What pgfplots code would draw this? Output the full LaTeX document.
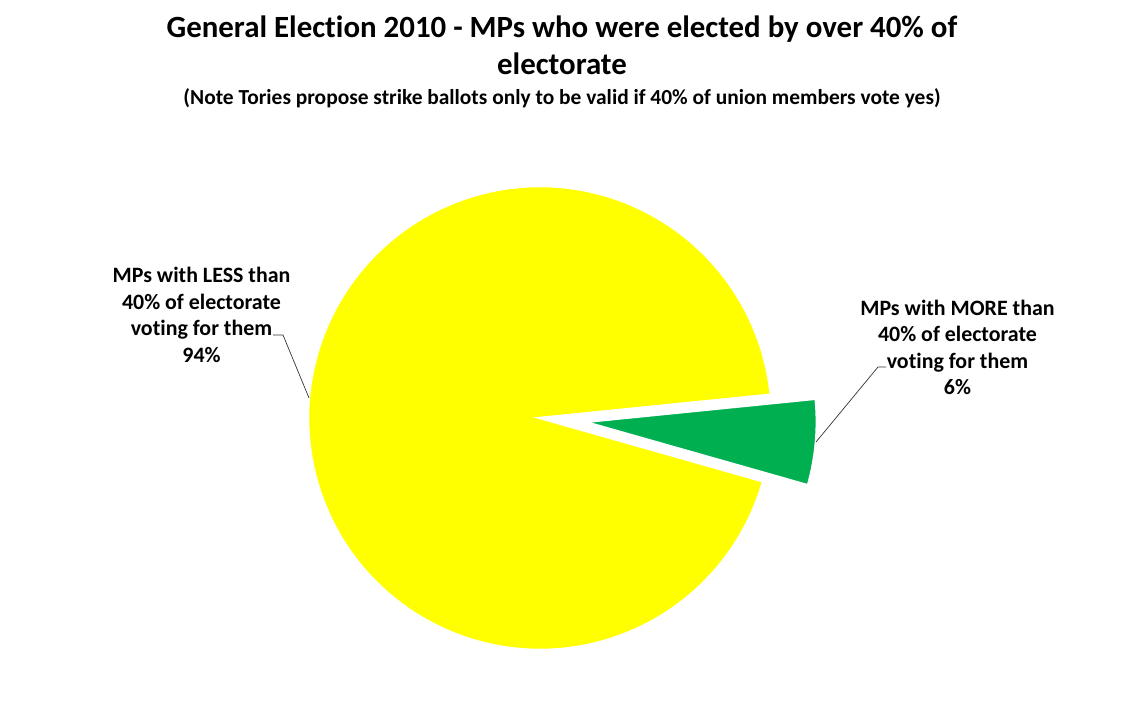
\documentclass[border=0pt]{standalone}
\usepackage{fontspec}
\setmainfont{Carlito}[Ligatures={NoCommon}]
\usepackage{pgfplots}
\usepackage{pgfplotstable}
\pgfplotsset{compat=1.18}
\definecolor{pieyellow}{HTML}{FFFF00}
\definecolor{piegreen}{HTML}{00B050}
\pgfplotstableread[col sep=comma]{
label,value
less,94
more,6
}\piedata
\pgfplotstablegetelem{0}{value}\of\piedata \let\vLess\pgfplotsretval
\pgfplotstablegetelem{1}{value}\of\piedata \let\vMore\pgfplotsretval
\begin{document}
\begin{tikzpicture}
\pgfmathsetmacro{\gA}{-15.85}
\pgfmathsetmacro{\gB}{\gA+3.6*\vMore}
\pgfmathsetmacro{\yB}{\gB+3.6*\vLess}
\pgfmathsetmacro{\gMid}{(\gA+\gB)/2}
\def\cx{540}\def\cy{308}\def\r{232}
\pgfmathsetmacro{\ex}{\cx+45*cos(\gMid)}
\pgfmathsetmacro{\ey}{\cy+45*sin(\gMid)}
\begin{axis}[
  x=1bp, y=1bp, xmin=0, xmax=1122, ymin=0, ymax=726,
  hide axis, clip=false, axis line style={draw=none},
]
\path (axis cs:0,0) rectangle (axis cs:1122,726);
\addplot[fill=pieyellow, draw=white, line width=2.5bp, domain=\gB:\yB, samples=200, variable=\t]
  ({\cx+\r*cos(\t)}, {\cy+\r*sin(\t)}) -- (axis cs:\cx,\cy) -- cycle;
\addplot[fill=piegreen, draw=white, line width=2.5bp, domain=\gA:\gB, samples=40, variable=\t]
  ({\ex+\r*cos(\t)}, {\ey+\r*sin(\t)}) -- (axis cs:\ex,\ey) -- cycle;
% leader lines
\draw[black!80, line width=0.7bp] (axis cs:273,391) -- (axis cs:283,391) -- (axis cs:309,328);
\draw[black!80, line width=0.7bp] (axis cs:886,359) -- (axis cs:878,359) -- (axis cs:816,284);
% labels
\node[align=center, font=\fontsize{22}{26.7}\selectfont\bfseries] at (axis cs:201.5,411)
  {MPs with LESS than\\40\% of electorate\\voting for them\\94\%};
\node[align=center, font=\fontsize{22}{26.7}\selectfont\bfseries] at (axis cs:957.5,378.5)
  {MPs with MORE than\\40\% of electorate\\voting for them\\6\%};
% titles
\node[align=center, font=\fontsize{31}{37}\selectfont\bfseries] at (axis cs:562,680.5)
  {General Election 2010 - MPs who were elected by over 40\% of\\electorate};
\node[align=center, font=\fontsize{21.5}{24}\selectfont\bfseries] at (axis cs:562,628)
  {(Note Tories propose strike ballots only to be valid if 40\% of union members vote yes)};
\end{axis}
\end{tikzpicture}
\end{document}
